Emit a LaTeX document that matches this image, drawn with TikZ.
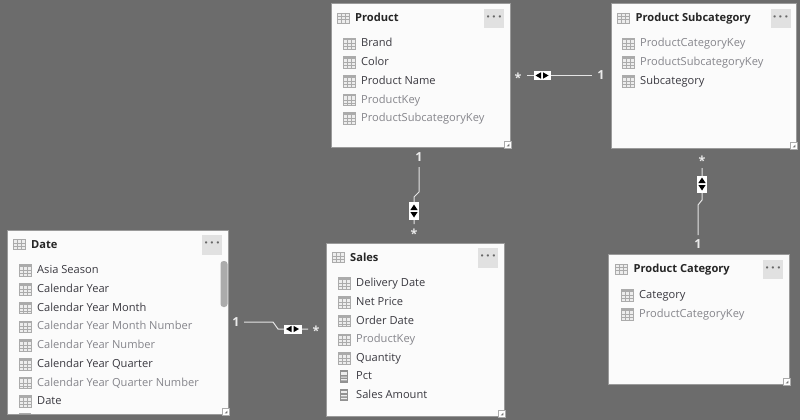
\documentclass[tikz,border=0pt]{standalone}
\usepackage{fontspec}
\setmainfont{Open Sans}
\definecolor{canvas}{HTML}{6C6C6C}
\definecolor{cardfill}{HTML}{FBFBFB}
\definecolor{cardedge}{HTML}{9A9A9A}
\definecolor{btnfill}{HTML}{E1E1E1}
\definecolor{iconfill}{HTML}{EDEDED}
\definecolor{iconedge}{HTML}{ABABAB}
\definecolor{shown}{HTML}{3A3940}
\definecolor{hidden}{HTML}{85858B}
\definecolor{relline}{HTML}{E4E4E4}
\tikzset{
	x=1pt,y=-1pt,
	card/.style={draw=cardedge,line width=0.8pt,fill=cardfill,inner sep=0,anchor=north west},
	titletext/.style={anchor=west,inner sep=0,font=\fontsize{11.1}{13}\selectfont\bfseries,text=black!85,text height=8,text depth=2.5,yshift=-1},
	shownfield/.style={anchor=west,inner sep=0,font=\fontsize{11.1}{13}\selectfont,text=shown,text height=8,text depth=2.5,yshift=-0.5},
	hiddenfield/.style={shownfield,text=hidden},
	dotsbtn/.style={fill=btnfill,inner sep=0,minimum width=20,minimum height=19.5,font=\fontsize{13}{13}\selectfont\bfseries,text=black!60},
	cardmark/.style={inner sep=0,minimum size=3.5,text width=0},
	reltext/.style={inner sep=0,font=\fontsize{12.5}{13}\selectfont\bfseries,text=white!92!black},
	rel/.style={draw=relline,line width=1pt},
	fltbox/.style={fill=white,inner sep=0},
	tableicon/.pic={
		\draw[iconedge,fill=iconfill,line width=0.6pt] (-6.2,-5) rectangle (6.2,5);
		\draw[iconedge,line width=0.5pt] (-6.2,-1.7) -- (6.2,-1.7) (-6.2,1.7) -- (6.2,1.7) (-2,-5) -- (-2,5) (2,-5) -- (2,5);
	},
	fieldicon/.pic={
		\draw[iconedge,fill=iconfill,line width=0.6pt] (-6.2,-5.8) rectangle (6.2,5.8);
		\fill[iconedge] (-6.2,-5.8) rectangle (6.2,-3.4);
		\draw[iconedge,line width=0.4pt] (-6.2,0) -- (6.2,0) (-6.2,3) -- (6.2,3) (-1.5,-5.8) -- (-1.5,5.8) (2.5,-5.8) -- (2.5,5.8);
	},
	calcicon/.pic={
		\fill[iconedge!85!black] (-4.2,-6.2) rectangle (4.2,6.2);
		\fill[iconfill] (-2.8,-4.6) rectangle (2.8,-1.8);
		\fill[iconfill] (-2.8,0) rectangle (2.8,1.2) (-2.8,2.6) rectangle (2.8,3.8);
	},
}
% one table: name, left, top, width, height, title, x of title icon, x of button, y of title
\newcommand{\tablecard}[9]{
	\draw (#2,#3) node[card,minimum width=#4,minimum height=#5](#1){};
	\draw (#7,#9) pic{tableicon};
	\draw (#7+12,#9) node[titletext](#1-title){#6};
	\draw (#8,#9+0.3) node[dotsbtn](#1-btn){·\,·\,·};
	\draw (#1.south east) ++(-3.5,-3.5) node[cardmark](#1-grip){};
	\draw[iconedge,fill=white,line width=0.4pt] (#1.south east) ++(0,0) rectangle ++(-7,-7);
	\fill[black!55] (#1.south east) ++(-1.5,-1.5) -- ++(-2.6,0) -- ++(2.6,-2.6) -- cycle;
}
% field rows of one table: name, x of icon, y of first row, list
\newcommand{\fieldrows}[4]{
	\foreach \n/\lab/\stl in {#4}{
		\draw (#2,{#3+18.72*(\n-1)}) pic{fieldicon};
		\draw (#2+12,{#3+18.72*(\n-1)}) node[\stl](#1-\n){\lab};
	}
}
\newcommand{\filterh}[1]{
	\fill (#1.center) ++(-1,-3.2) -- ++(0,6.4) -- ++(-5.5,-3.2) -- cycle;
	\fill (#1.center) ++(1,-3.2) -- ++(0,6.4) -- ++(5.5,-3.2) -- cycle;
}
\newcommand{\filterv}[1]{
	\fill (#1.center) ++(-3.6,-1) -- ++(7.2,0) -- ++(-3.6,-5.5) -- cycle;
	\fill (#1.center) ++(-3.6,1) -- ++(7.2,0) -- ++(-3.6,5.5) -- cycle;
}
\begin{document}
\begin{tikzpicture}
	\useasboundingbox (0,0) rectangle (800,420);
	\fill[canvas] (0,0) rectangle (800,420);

	\tablecard{product}{331}{3}{179}{144}{Product}{343}{494}{18}
	\fieldrows{product}{349}{43.7}{1/Brand/shownfield,2/Color/shownfield,3/Product Name/shownfield,4/ProductKey/hiddenfield,5/ProductSubcategoryKey/hiddenfield}

	\tablecard{subcat}{611}{3}{185}{145}{Product Subcategory}{623.5}{780.5}{18}
	\fieldrows{subcat}{628}{43.7}{1/ProductCategoryKey/hiddenfield,2/ProductSubcategoryKey/hiddenfield,3/Subcategory/shownfield}

	\tablecard{category}{608}{254}{181}{130}{Product Category}{621.5}{773}{269}
	\fieldrows{category}{627}{295.5}{1/Category/shownfield,2/ProductCategoryKey/hiddenfield}

	\tablecard{sales}{326}{243}{178}{173}{Sales}{338}{488}{257.5}
	\fieldrows{sales}{344}{283.5}{1/Delivery Date/shownfield,2/Net Price/shownfield,3/Order Date/shownfield,4/ProductKey/hiddenfield,5/Quantity/shownfield}
	\draw (344,376.5) pic{calcicon} (344,395.2) pic{calcicon};
	\draw (356,376.5) node[shownfield](sales-6){Pct} (356,395.2) node[shownfield](sales-7){Sales Amount};

	\tablecard{date}{7}{230}{221}{184}{Date}{19}{212}{244.5}
	\fieldrows{date}{25}{270.5}{1/Asia Season/shownfield,2/Calendar Year/shownfield,3/Calendar Year Month/shownfield,4/Calendar Year Month Number/hiddenfield,5/Calendar Year Number/hiddenfield,6/Calendar Year Quarter/shownfield,7/Calendar Year Quarter Number/hiddenfield,8/Date/shownfield}
	\fill[iconedge,rounded corners=3] (220.5,261) rectangle (227.5,307);
	\fill[iconedge] (18.8,412.6) rectangle (31.2,414);

	% relationships
	\draw (419,157) node[reltext](rel-a1){1} (414,234) node[reltext](rel-am){*};
	\draw (414,211) coordinate(a-mid) (419,167) coordinate(a-top) (414,224) coordinate(a-end);
	\draw[rel] (a-top) -- (419,192) -- (414,197) -- (a-end);

	\draw (236,322) node[reltext](rel-b1){1} (316,330.5) node[reltext](rel-bm){*};
	\draw (292.5,329) coordinate(b-mid) (244,322) coordinate(b-top) (308,329) coordinate(b-end);
	\draw[rel] (b-top) -- (273,322) -- (278,329) -- (b-end);

	\draw (601,75) node[reltext](rel-c1){1} (518,77.5) node[reltext](rel-cm){*};
	\draw (542,75.5) coordinate(c-mid) (592,75) coordinate(c-top) (527,75) coordinate(c-end);
	\draw[rel] (c-top) -- (c-end);

	\draw (698,244) node[reltext](rel-d1){1} (702,160.5) node[reltext](rel-dm){*};
	\draw (702,184) coordinate(d-mid) (698,235) coordinate(d-top) (702,168) coordinate(d-end);
	\draw[rel] (d-top) -- (698,205) -- (702,200) -- (d-end);

	\draw (a-mid) node[fltbox,minimum width=10,minimum height=18](flt-a){};
	\draw (b-mid) node[fltbox,minimum width=18,minimum height=9](flt-b){};
	\draw (c-mid) node[fltbox,minimum width=17,minimum height=8.5](flt-c){};
	\draw (d-mid) node[fltbox,minimum width=10,minimum height=17](flt-d){};
	\filterv{flt-a}
	\filterh{flt-b}
	\filterh{flt-c}
	\filterv{flt-d}
\end{tikzpicture}
\end{document}
